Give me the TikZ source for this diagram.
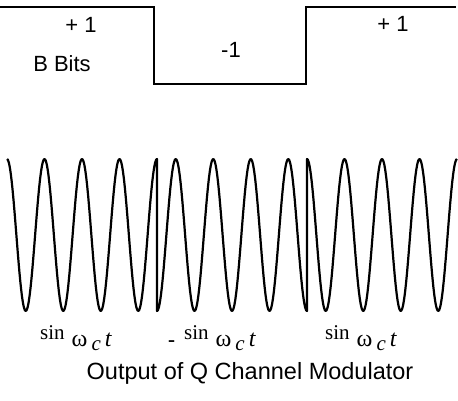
\documentclass[tikz,border=0pt]{standalone}
\usepackage{fontspec}
\setmainfont{Liberation Serif}
\setsansfont{Liberation Sans}
\usetikzlibrary{positioning}

\newcommand{\wct}{{\fontsize{24}{28}\selectfont ω}\hspace{4pt}\raisebox{-4pt}{\fontsize{21}{24}\selectfont\itshape c}\hspace{4pt}{\fontsize{24}{28}\selectfont\itshape t}}
\newcommand{\sinw}{\raisebox{7pt}{\fontsize{21}{24}\selectfont sin}\hspace{7pt}\wct}

\begin{document}
\begin{tikzpicture}[x=1pt,y=-1pt,
  bits/.style={line width=1.3pt,black},
  carrier/.style={line width=2.2pt,black,line join=round},
  lvl/.style={font=\sffamily\fontsize{22}{26}\selectfont,inner sep=0pt},
  phase/.style={font=\fontsize{21}{24}\selectfont,anchor=base west,inner sep=0pt},
  captxt/.style={font=\sffamily\fontsize{23.5}{28}\selectfont,inner sep=0pt}
]
\useasboundingbox (0,0) rectangle (458,400);

% B bit stream
\draw[bits] (0,7) -- (154,7) -- (154,84) -- (306,84) -- (306,7) -- (456,7);
\node[lvl] (plusA) at (81,25) {+ 1};
\node[lvl] (bbits) at (62,64) {B Bits};
\node[lvl] (minus) at (231,50) {-1};
\node[lvl] (plusB) at (393,24) {+ 1};

% carrier, phase flipped on each bit
\draw[carrier] plot[domain=7:157,samples=160] (\x,{235-76*cos(9.6*(\x-7))})
  -- plot[domain=157:307,samples=160] (\x,{235+76*cos(9.6*(\x-157))})
  -- plot[domain=307:457,samples=160] (\x,{235-76*cos(9.6*(\x-307))});

\node[phase] (sinA) at (40,346) {\sinw};
\node[phase] (sinB) at (168,346) {\textbf{-}\hspace{9pt}\sinw};
\node[phase] (sinC) at (325,346) {\sinw};

\node[captxt] (title) at (250,373) {Output of Q Channel Modulator};
\end{tikzpicture}
\end{document}
